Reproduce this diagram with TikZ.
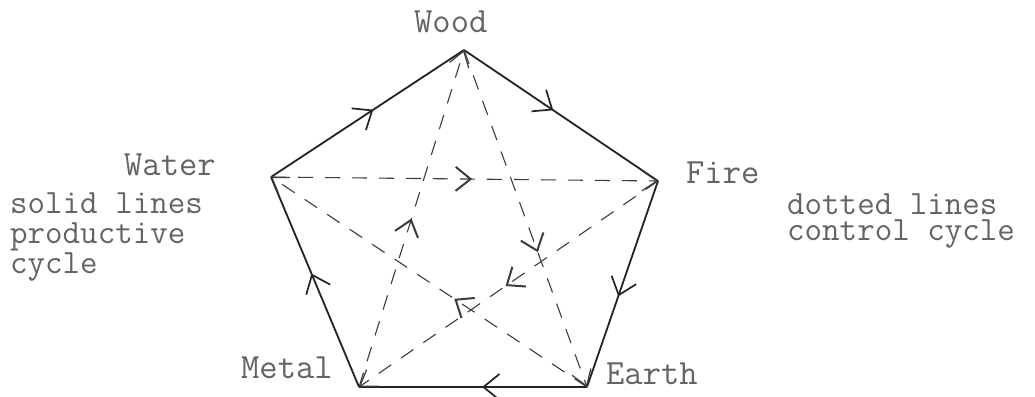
\documentclass[tikz,border=0pt]{standalone}
\usepackage{fontspec}
\usetikzlibrary{arrows.meta,decorations.markings}
\definecolor{ink}{RGB}{35,35,35}
\definecolor{dashink}{RGB}{60,60,60}
\definecolor{txtgray}{RGB}{100,100,100}
\tikzset{
  lbl/.style={anchor=base west, inner sep=0pt, text=txtgray, font=\ttfamily\fontsize{35.5}{25}\selectfont},
  note/.style={anchor=north west, inner sep=0pt, align=left, text=txtgray},
  solidedge/.style={draw=ink, line width=1.8pt, postaction={decorate},
    decoration={markings, mark=at position #1 with {\arrow{Straight Barb[length=16pt,width=26pt,line width=1.7pt]}}}},
  ctledge/.style={draw=dashink, line width=1.1pt, dash pattern=on 15pt off 12pt,
    -{Straight Barb[length=15pt,width=20pt,line width=1.2pt]},
    postaction={decorate},
    decoration={markings, mark=at position #1 with {\arrow{Straight Barb[length=15pt,width=24pt,line width=2pt]}}}},
}
\begin{document}
\begin{tikzpicture}[x=1pt,y=-1pt]
\fill[white] (0,0) rectangle (1035,396);
\useasboundingbox (0,0) rectangle (1035,396);
% vertices
\coordinate (wood) at (464,50);
\coordinate (fire) at (658,181);
\coordinate (earth) at (587,387);
\coordinate (metal) at (359,387);
\coordinate (water) at (271,177);
% labels
\node[lbl] (lwood) at (414,33) {Wood};
\node[lbl] (lwater) at (124,175) {Water};
\node[lbl] (lfire) at (686,183) {Fire};
\node[lbl] (lmetal) at (241,378) {Metal};
\node[lbl] (learth) at (606,384) {Earth};
\node[note, font=\ttfamily\fontsize{34}{30}\selectfont] (solidnote) at (10,192.5) {solid lines\\productive\\cycle};
\node[note, font=\ttfamily\fontsize{34}{26}\selectfont] (dottednote) at (787,194) {dotted lines\\control cycle};
% productive cycle
\path[solidedge=0.53] (water) -- (wood);
\path[solidedge=0.46] (wood) -- (fire);
\path[solidedge=0.56] (fire) -- (earth);
\path[solidedge=0.46] (earth) -- (metal);
\path[solidedge=0.54] (metal) -- (water);
% control cycle
\path[ctledge=0.60] (wood) -- (earth);
\path[ctledge=0.42] (earth) -- (water);
\path[ctledge=0.52] (water) -- (fire);
\path[ctledge=0.51] (fire) -- (metal);
\path[ctledge=0.50] (metal) -- (wood);
\end{tikzpicture}
\end{document}
